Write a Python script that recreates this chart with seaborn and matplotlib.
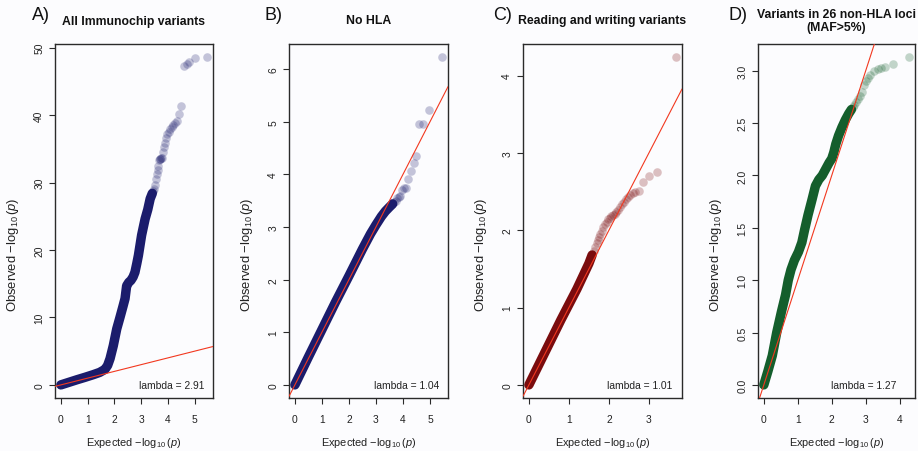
import numpy as np
import pandas as pd
import matplotlib
matplotlib.use("Agg")
import matplotlib.pyplot as plt
import matplotlib.transforms as mtransforms
import seaborn as sns

# ---------------------------------------------------------------------------
# QQ data: expected vs observed -log10(p), dense body and sparse tail
# ---------------------------------------------------------------------------
titles = ["All Immunochip variants", "No HLA", "Reading and writing variants",
          "Variants in 26 non-HLA loci\n(MAF>5%)"]
panel_tags = ["A)", "B)", "C)", "D)"]
lambdas = [2.91, 1.04, 1.01, 1.27]
colors = ["#1b1c6c", "#1b1c6c", "#7a0c0e", "#145e2c"]

# A) all Immunochip variants
a_body_exp = [0.0, 0.3, 0.6, 0.9, 1.2, 1.45, 1.65, 1.75, 1.84, 1.96, 2.09, 2.21,
              2.32, 2.40, 2.46, 2.54, 2.62, 2.70, 2.77, 2.84, 2.90, 2.96, 3.02,
              3.09, 3.15, 3.25, 3.34, 3.42]
a_body_obs = [0.0, 0.38, 0.76, 1.12, 1.5, 1.85, 2.3, 2.9, 3.9, 5.8, 8.3, 10.0,
              11.6, 12.8, 14.7, 15.2, 15.5, 16.0, 16.7, 18.0, 19.2, 20.7, 22.2,
              23.5, 24.6, 26.0, 27.6, 28.4]
a_tail_exp = [3.45, 3.48, 3.52, 3.55, 3.58, 3.62, 3.65, 3.68, 3.70, 3.72, 3.75,
              3.78, 3.82, 3.85, 3.90, 3.94, 3.98, 4.03, 4.09, 4.15, 4.21, 4.27,
              4.34, 4.42, 4.51, 4.61, 4.70, 4.79, 5.01, 5.47]
a_tail_obs = [28.8, 29.1, 29.6, 30.5, 31.2, 31.9, 32.4, 33.3, 33.5, 33.5, 33.6,
              33.6, 34.6, 35.3, 35.8, 36.6, 37.2, 37.5, 37.9, 38.2, 38.5, 38.9,
              39.1, 40.1, 41.4, 47.3, 47.6, 47.9, 48.4, 48.6]

# B) no HLA
b_body_exp = [0.0, 0.5, 1.0, 1.5, 2.0, 2.5, 2.8, 3.0, 3.2, 3.35, 3.5, 3.62]
b_body_obs = [0.0, 0.53, 1.05, 1.57, 2.07, 2.58, 2.87, 3.04, 3.2, 3.3, 3.38, 3.44]
b_tail_exp = [3.68, 3.74, 3.79, 3.85, 3.90, 3.97, 4.03, 4.10, 4.20, 4.29, 4.41,
              4.49, 4.61, 4.75, 4.95, 5.45]
b_tail_obs = [3.47, 3.5, 3.55, 3.57, 3.59, 3.7, 3.75, 3.75, 3.92, 4.06, 4.22,
              4.35, 4.95, 4.96, 5.23, 6.23]

# C) reading and writing variants
c_body_exp = [0.0, 0.4, 0.8, 1.0, 1.2, 1.4, 1.5, 1.58]
c_body_obs = [0.0, 0.42, 0.84, 1.04, 1.24, 1.46, 1.57, 1.68]
c_tail_exp = [1.62, 1.66, 1.70, 1.73, 1.76, 1.79, 1.82, 1.86, 1.90, 1.94, 1.98,
              2.02, 2.06, 2.10, 2.14, 2.18, 2.22, 2.27, 2.32, 2.37, 2.42, 2.47,
              2.53, 2.59, 2.66, 2.74, 2.85, 2.99, 3.21, 3.68]
c_tail_obs = [1.73, 1.78, 1.83, 1.87, 1.91, 1.95, 1.99, 2.04, 2.08, 2.11, 2.14,
              2.16, 2.18, 2.2, 2.21, 2.23, 2.26, 2.3, 2.34, 2.37, 2.4, 2.43,
              2.46, 2.48, 2.5, 2.51, 2.63, 2.70, 2.76, 4.24]

# D) variants in 26 non-HLA loci
d_body_exp = [0.0, 0.12, 0.25, 0.38, 0.52, 0.64, 0.72, 0.80, 0.90, 1.02, 1.12,
              1.20, 1.30, 1.42, 1.52, 1.62, 1.72, 1.82, 1.92, 2.00, 2.06, 2.12,
              2.20, 2.30, 2.40, 2.50, 2.58]
d_body_obs = [0.0, 0.13, 0.28, 0.5, 0.7, 0.86, 1.0, 1.1, 1.19, 1.27, 1.36,
              1.48, 1.62, 1.77, 1.9, 1.96, 2.0, 2.06, 2.12, 2.16, 2.22, 2.3,
              2.38, 2.46, 2.53, 2.59, 2.63]
d_tail_exp = [2.62, 2.66, 2.70, 2.76, 2.82, 2.89, 2.95, 3.00, 3.06, 3.14, 3.24,
              3.35, 3.45, 3.56, 3.79, 4.28]
d_tail_obs = [2.65, 2.67, 2.7, 2.73, 2.76, 2.8, 2.86, 2.9, 2.93, 2.96, 3.0,
              3.02, 3.03, 3.04, 3.06, 3.13]

x_ticks = [[0, 1, 2, 3, 4, 5], [0, 1, 2, 3, 4, 5], [0, 1, 2, 3], [0, 1, 2, 3, 4]]
y_ticks = [[0, 10, 20, 30, 40, 50], [0, 1, 2, 3, 4, 5, 6], [0, 1, 2, 3, 4],
           [0.0, 0.5, 1.0, 1.5, 2.0, 2.5, 3.0]]
y_tick_fmt = ["{:g}", "{:g}", "{:g}", "{:.1f}"]

bodies = [(a_body_exp, a_body_obs), (b_body_exp, b_body_obs),
          (c_body_exp, c_body_obs), (d_body_exp, d_body_obs)]
tails = [(a_tail_exp, a_tail_obs), (b_tail_exp, b_tail_obs),
         (c_tail_exp, c_tail_obs), (d_tail_exp, d_tail_obs)]

# ---------------------------------------------------------------------------
# styling
# ---------------------------------------------------------------------------
sns.set_style("ticks")
plt.rcParams["font.family"] = ["Liberation Sans", "DejaVu Sans"]
plt.rcParams["mathtext.fontset"] = "custom"
plt.rcParams["mathtext.rm"] = "Liberation Sans"
plt.rcParams["mathtext.it"] = "Liberation Sans:italic"
plt.rcParams["mathtext.bf"] = "Liberation Sans:bold"
plt.rcParams["axes.edgecolor"] = "#2a2a2a"
plt.rcParams["axes.linewidth"] = 1.0

W, H = 918, 452
fig = plt.figure(figsize=(W / 100, H / 100), dpi=100)
fig.patch.set_facecolor("#fcfcfe")

# axes boxes in pixels: left, right, top, bottom
boxes = [(55, 213, 45, 399), (289, 448, 45, 399), (523, 682, 45, 399),
         (758, 915, 45, 399)]
tag_x = [32, 265, 493, 728]
title_y = [22, 21, 21, 21.5]
lambda_pad = [9, 9, 10, 19]

xlab = r"Expected $-\log_{10}(p)$"
ylab = r"Observed $-\log_{10}(p)$"


def r_limits(values):
    lo, hi = min(values), max(values)
    ext = 0.04 * (hi - lo)
    return lo - ext, hi + ext


for i in range(4):
    l, r, t, b = boxes[i]
    ax = fig.add_axes([l / W, (H - b) / H, (r - l) / W, (b - t) / H])
    ax.set_facecolor("#fcfcfe")
    color = colors[i]

    bx, by = bodies[i]
    tx, ty = tails[i]
    body = pd.DataFrame({"expected": bx, "observed": by})
    tail = pd.DataFrame({"expected": tx, "observed": ty})

    sns.lineplot(data=body, x="expected", y="observed", sort=False,
                 estimator=None, color=color, lw=6.8,
                 solid_capstyle="round", solid_joinstyle="round", ax=ax,
                 zorder=2)
    sns.scatterplot(data=tail, x="expected", y="observed", color=color,
                    alpha=0.25, s=38, linewidth=0, ax=ax, zorder=2)

    ax.axline((0, 0), slope=1, color="#f2381f", lw=0.8, zorder=3)

    ax.set_xlim(*r_limits(bx + tx))
    ax.set_ylim(*r_limits(by + ty))

    ax.set_xticks(x_ticks[i])
    ax.set_xticklabels([str(v) for v in x_ticks[i]])
    ax.set_yticks(y_ticks[i])
    ax.set_yticklabels([y_tick_fmt[i].format(v) for v in y_ticks[i]],
                       rotation=90, va="center")
    ax.tick_params(axis="both", direction="out", length=4.3, width=0.8,
                   color="#2a2a2a", labelsize=7.4, labelcolor="#222222")
    ax.tick_params(axis="x", pad=7.5)
    ax.tick_params(axis="y", pad=3.5)
    for sp in ax.spines.values():
        sp.set_visible(True)

    ax.set_xlabel(xlab, fontsize=7.9, color="#222222", va="center",
                  fontweight="normal")
    ax.xaxis.set_label_coords(0.5, -(443 - b) / (b - t))
    ax.set_ylabel(ylab, fontsize=9.4, color="#222222", va="center",
                  fontweight="normal")
    ax.yaxis.set_label_coords(-42 / (r - l), (b - 255) / (b - t))

    trans = mtransforms.blended_transform_factory(ax.transAxes, ax.transData)
    ax.text(1 - lambda_pad[i] / (r - l), 0, f"lambda = {lambdas[i]:.2f}",
            transform=trans, ha="right", va="center", fontsize=7.4,
            color="#222222")

    cx = (l + r) / 2
    fig.text(cx / W, 1 - title_y[i] / H, titles[i], ha="center",
             va="center", fontsize=8.8, fontweight="bold", linespacing=1.1,
             color="#111111")
    fig.text(tag_x[i] / W, 1 - 15 / H, panel_tags[i], ha="left", va="center",
             fontsize=13, color="#111111")

fig.savefig("out.png", dpi=100, facecolor=fig.get_facecolor())
